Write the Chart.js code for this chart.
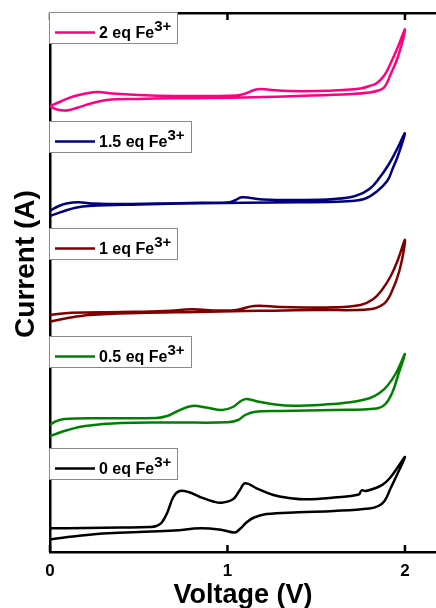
<!DOCTYPE html>
<html>
<head>
<meta charset="utf-8">
<script src="https://cdn.jsdelivr.net/npm/chart.js@4.4.0/dist/chart.umd.min.js"></script>
<style>
    html, body { margin: 0; padding: 0; background: #fff; }
</style>
</head>
<body>
<canvas id="cvChart" width="436" height="608"></canvas>
<script>
// 各濃度のCV曲線（往路 0→2 V、復路 2→0 V を続けて並べる）
const labels = ['2 eq Fe', '1.5 eq Fe', '1 eq Fe', '0.5 eq Fe', '0 eq Fe'];
const colors = ['#ff0080', '#000080', '#800000', '#008000', '#000000'];
const xTicks = [0, 1, 2];

const vPink = [0, 0.06, 0.13, 0.2, 0.27, 0.35, 0.5, 0.7, 0.9, 1.05, 1.1, 1.15, 1.19, 1.25, 1.35, 1.5, 1.65, 1.75, 1.8, 1.84, 1.885, 1.92, 1.96, 2.0,
    1.96, 1.92, 1.885, 1.85, 1.8, 1.7, 1.4, 1.15, 0.9, 0.69, 0.5, 0.32, 0.22, 0.15, 0.09, 0.04, 0];
const iPink = [44.6, 45.05, 45.55, 45.85, 46.0, 45.85, 45.7, 45.6, 45.6, 45.65, 45.85, 46.2, 46.3, 46.2, 46.1, 46.1, 46.2, 46.35, 46.6, 46.87, 47.7, 48.9, 50.5, 52.25,
    49.5, 47.8, 46.5, 46.15, 45.95, 45.8, 45.6, 45.47, 45.4, 45.37, 45.3, 45.2, 44.8, 44.4, 44.15, 44.25, 44.55];

const vBlue = [0, 0.05, 0.1, 0.16, 0.25, 0.4, 0.6, 0.85, 1.0, 1.04, 1.08, 1.13, 1.2, 1.4, 1.6, 1.72, 1.8, 1.86, 1.91, 1.95, 2.0,
    1.96, 1.93, 1.9, 1.84, 1.77, 1.65, 1.4, 1.1, 0.85, 0.5, 0.22, 0.15, 0.08, 0];
const iBlue = [34.13, 34.6, 34.88, 34.97, 34.85, 34.8, 34.85, 34.92, 34.95, 35.15, 35.47, 35.4, 35.25, 35.2, 35.3, 35.6, 36.3, 37.5, 38.8, 40.1, 41.87,
    39.6, 38.3, 37.1, 36.03, 35.3, 35.05, 34.97, 34.92, 34.88, 34.75, 34.6, 34.45, 34.1, 33.6];

const vRed = [0, 0.12, 0.4, 0.65, 0.8, 0.95, 1.05, 1.15, 1.3, 1.6, 1.75, 1.82, 1.87, 1.92, 1.96, 2.0,
    1.97, 1.92, 1.88, 1.8, 1.5, 1.26, 1.1, 0.83, 0.5, 0.225, 0.1, 0];
const iRed = [23.7, 23.93, 24.0, 24.1, 24.27, 24.15, 24.2, 24.6, 24.5, 24.47, 24.7, 25.27, 26.2, 27.6, 29.2, 31.2,
    28.2, 25.8, 24.8, 24.27, 24.2, 24.13, 24.1, 24.0, 23.9, 23.7, 23.4, 23.03];

const vGreen = [0, 0.03, 0.08, 0.3, 0.6, 0.66, 0.72, 0.8, 0.88, 0.97, 1.03, 1.08, 1.11, 1.17, 1.27, 1.37, 1.55, 1.69, 1.8, 1.86, 1.9, 1.95, 2.0,
    1.96, 1.93, 1.89, 1.84, 1.6, 1.3, 1.15, 1.1, 1.06, 1.0, 0.7, 0.4, 0.2, 0.1, 0];
const iGreen = [12.7, 13.05, 13.3, 13.37, 13.4, 13.6, 14.1, 14.6, 14.45, 14.2, 14.5, 15.15, 15.3, 15.05, 14.75, 14.63, 14.75, 14.97, 15.37, 15.95, 16.6, 17.9, 19.8,
    17.6, 16.0, 14.8, 14.35, 14.2, 14.1, 14.0, 13.7, 13.2, 12.97, 12.95, 12.9, 12.6, 12.2, 11.6];

const vBlack = [0, 0.2, 0.4, 0.56, 0.6, 0.63, 0.66, 0.695, 0.73, 0.78, 0.845, 0.92, 0.967, 1.033, 1.07, 1.1, 1.164, 1.258, 1.35, 1.446, 1.6, 1.74, 1.755, 1.78, 1.85, 1.885, 1.92, 1.96, 2.0,
    1.96, 1.92, 1.885, 1.85, 1.8, 1.6, 1.4, 1.22, 1.15, 1.11, 1.07, 1.04, 0.97, 0.85, 0.7, 0.5, 0.3, 0.1, 0];
const iBlack = [2.37, 2.4, 2.45, 2.5, 2.6, 2.95, 3.9, 5.5, 6.1, 6.0, 5.5, 5.05, 4.93, 5.3, 6.2, 6.87, 6.37, 5.7, 5.4, 5.27, 5.45, 5.75, 6.15, 6.1, 6.5, 6.87, 7.5, 8.5, 9.5,
    7.9, 6.4, 5.1, 4.6, 4.35, 4.1, 3.97, 3.8, 3.45, 3.0, 2.3, 1.95, 2.2, 2.37, 2.15, 2.0, 1.85, 1.5, 1.25];

// 凡例ボックスの上端（y軸の値）
const legendTops = [54.0, 43.13, 32.37, 21.6, 10.37];

const FONT = "'Liberation Sans', Arial, sans-serif";

const series = [[vPink, iPink], [vBlue, iBlue], [vRed, iRed], [vGreen, iGreen], [vBlack, iBlack]];

const datasets = series.map(([v, i], k) => ({
    label: labels[k],
    data: v.map((x, n) => ({ x: x, y: i[n] })),
    borderColor: colors[k],
    backgroundColor: colors[k],
    showLine: true,
    fill: false,
    xAxisID: 'x',
    yAxisID: 'y'
}));

/**
 * 内向きの目盛り・縦軸タイトル・凡例ボックスを描く
 */
const framePlugin = {
    id: 'framePlugin',
    afterDraw(chart) {
        const ctx = chart.ctx;
        const area = chart.chartArea;
        const xs = chart.scales.x;
        const ys = chart.scales.y;

        ctx.save();

        // 目盛り（内向き）
        ctx.strokeStyle = '#000';
        ctx.lineWidth = 2.5;
        xTicks.forEach(v => {
            const px = xs.getPixelForValue(v);
            ctx.beginPath();
            ctx.moveTo(px, area.bottom);
            ctx.lineTo(px, area.bottom - 7);
            ctx.moveTo(px, area.top);
            ctx.lineTo(px, area.top + 7);
            ctx.stroke();
        });

        // 縦軸タイトル
        ctx.save();
        ctx.translate(34, 264);
        ctx.rotate(-Math.PI / 2);
        ctx.fillStyle = '#000';
        ctx.font = `bold 28px ${FONT}`;
        ctx.textAlign = 'center';
        ctx.textBaseline = 'alphabetic';
        ctx.fillText('Current (A)', 0, 0);
        ctx.restore();

        // 凡例
        labels.forEach((label, k) => {
            const top = Math.round(ys.getPixelForValue(legendTops[k]));
            const left = area.left - 1;
            ctx.font = `bold 16px ${FONT}`;
            const w1 = ctx.measureText(label).width;
            ctx.font = `bold 15px ${FONT}`;
            const w2 = ctx.measureText('3+').width;
            const width = Math.round(50 + w1 + w2 + 6);
            const height = 31;

            ctx.fillStyle = '#fff';
            ctx.fillRect(left, top, width, height);
            ctx.strokeStyle = '#888';
            ctx.lineWidth = 1;
            ctx.strokeRect(left + 0.5, top + 0.5, width, height);

            ctx.strokeStyle = colors[k];
            ctx.lineWidth = 2.5;
            ctx.beginPath();
            ctx.moveTo(left + 6, top + 20.5);
            ctx.lineTo(left + 46, top + 20.5);
            ctx.stroke();

            ctx.fillStyle = '#000';
            ctx.textAlign = 'left';
            ctx.textBaseline = 'alphabetic';
            ctx.font = `bold 16px ${FONT}`;
            ctx.fillText(label, left + 50, top + 26);
            ctx.font = `bold 15px ${FONT}`;
            ctx.fillText('3+', left + 50 + w1, top + 19);
        });

        ctx.restore();
    }
};

new Chart(document.getElementById('cvChart'), {
    type: 'scatter',
    data: { datasets: datasets },
    options: {
        responsive: false,
        animation: false,
        layout: { padding: 0 },
        plugins: {
            legend: { display: false },
            tooltip: { enabled: false }
        },
        elements: {
            point: { radius: 0, hoverRadius: 0 },
            line: { tension: 0.4, borderWidth: 2.5 }
        },
        scales: {
            x: {
                type: 'linear',
                position: 'bottom',
                min: 0,
                max: 2.175,
                grid: { display: false, drawTicks: false },
                border: { display: true, color: '#000', width: 2.5 },
                afterBuildTicks: s => { s.ticks = xTicks.map(v => ({ value: v })); },
                afterFit: s => { s.height = 56; },
                ticks: {
                    color: '#000',
                    padding: 9,
                    maxRotation: 0,
                    font: { family: FONT, size: 17, weight: 'bold' }
                },
                title: {
                    display: true,
                    text: 'Voltage (V)',
                    color: '#000',
                    padding: { top: 0, bottom: -4 },
                    font: { family: FONT, size: 27, weight: 'bold' }
                }
            },
            x2: {
                type: 'linear',
                axis: 'x',
                position: 'top',
                min: 0,
                max: 2.175,
                grid: { display: false, drawTicks: false },
                border: { display: true, color: '#000', width: 2.5 },
                ticks: { display: false },
                afterFit: s => { s.height = 13; }
            },
            y: {
                type: 'linear',
                position: 'left',
                min: 0,
                max: 53.9,
                grid: { display: false, drawTicks: false },
                border: { display: true, color: '#000', width: 2.5 },
                ticks: { display: false },
                afterFit: s => { s.width = 50; }
            }
        }
    },
    plugins: [framePlugin]
});
</script>
</body>
</html>
